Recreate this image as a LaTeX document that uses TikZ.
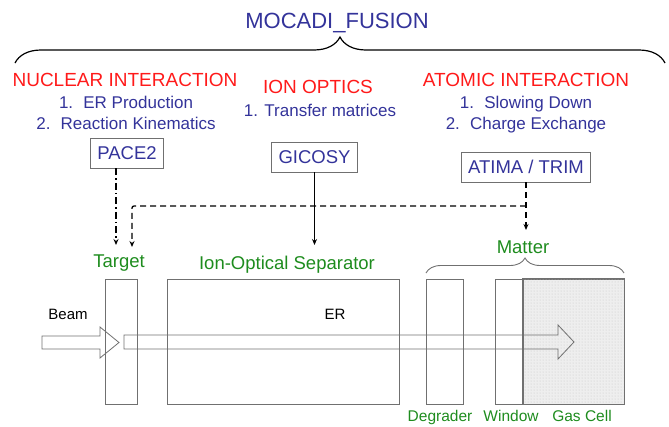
\documentclass[tikz,border=0pt]{standalone}
\usepackage{fontspec}
\setmainfont{Liberation Sans}
\usetikzlibrary{arrows.meta, positioning, calc, decorations.pathreplacing, patterns}
\definecolor{mocblue}{HTML}{33339A}
\definecolor{mocred}{HTML}{FF1A1A}
\definecolor{mocgreen}{HTML}{1E8C1E}
\definecolor{boxgray}{HTML}{707070}
\definecolor{gasfill}{HTML}{EEEEEE}

\begin{document}
\begin{tikzpicture}[x=1pt, y=-1pt,
    lbl/.style={inner sep=0pt, text depth=0pt},
    head/.style={lbl, text height=13.7pt, font=\fontsize{19}{23}\selectfont, text=mocred},
    item/.style={lbl, text height=12.2pt, font=\fontsize{17}{21}\selectfont, text=mocblue},
    code/.style={lbl, text height=13.3pt, draw=boxgray, line width=0.9pt, font=\fontsize{18.5}{22}\selectfont, text=mocblue, minimum height=30pt, inner xsep=7pt},
    part/.style={lbl, text height=13.3pt, font=\fontsize{18.5}{22}\selectfont, text=mocgreen},
    small/.style={lbl, text height=11.2pt, font=\fontsize{15.5}{19}\selectfont, text=mocgreen},
    note/.style={lbl, text height=10.8pt, font=\fontsize{15}{18}\selectfont},
    slab/.style={draw=boxgray, line width=0.8pt, inner sep=0pt, minimum height=125pt},
    link/.style={line width=1.3pt, -{Stealth[length=6pt, width=5pt]}}]
  \useasboundingbox (0,0) rectangle (669,426);

  % Titel und Klammer
  \node[lbl, text height=15.8pt, font=\fontsize{22}{26}\selectfont, text=mocblue] (title) at (337,21) {MOCADI\_FUSION};
  \draw[decorate, decoration={brace, amplitude=26pt}, line width=1.2pt] (15,63) -- (665,63);

  % Kernreaktion
  \node[head] (nuclear) at (125,80) {NUCLEAR INTERACTION};
  \node[item] (nucA) at (126,102) {1.\hspace{0.6em}ER Production};
  \node[item] (nucB) at (126,123) {2.\hspace{0.6em}Reaction Kinematics};
  \node[code] (pace) at (127,153) {PACE2};

  % Ionenoptik
  \node[head] (optics) at (318,87) {ION OPTICS};
  \node[item] (optA) at (320,110) {1. Transfer matrices};
  \node[code] (gicosy) at (314.5,157) {GICOSY};

  % Atomare Wechselwirkung
  \node[head] (atomic) at (526,80) {ATOMIC INTERACTION};
  \node[item] (atoA) at (526,102) {1.\hspace{0.6em}Slowing Down};
  \node[item] (atoB) at (526,123) {2.\hspace{0.6em}Charge Exchange};
  \node[code] (atima) at (526,167) {ATIMA / TRIM};

  % Aufbau
  \node[slab, minimum width=32pt] (target) at (121,341.5) {};
  \node[slab, minimum width=232pt] (separator) at (283,341.5) {};
  \node[slab, minimum width=37pt] (degrader) at (444.5,341.5) {};
  \node[slab, minimum width=27pt] (window) at (508.5,341.5) {};
  \node[slab, minimum width=101pt, fill=gasfill] (gascell) at (573.5,341.5) {};
  \fill[pattern=dots, pattern color=black!22] (gascell.south west) rectangle (gascell.north east);
  \draw[boxgray, line width=0.8pt] (gascell.south west) rectangle (gascell.north east);

  \node[part] (tgtlabel) at (119,261) {Target};
  \node[part] (seplabel) at (287,263) {Ion-Optical Separator};
  \node[part] (matlabel) at (523,247) {Matter};
  \draw[decorate, decoration={brace, amplitude=15pt}, boxgray, line width=0.9pt] (426,273) -- (624,273);
  \node[small] (deglabel) at (440,416) {Degrader};
  \node[small] (winlabel) at (511,416) {Window};
  \node[small] (gaslabel) at (582,416) {Gas Cell};

  % Strahl und ER
  \node[note] (beam) at (68,314) {Beam};
  \node[note] (er) at (335,314) {ER};
  \draw[boxgray, line width=0.8pt] (42,336) -- (100,336) -- (100,327) -- (119,342.5) -- (100,358) -- (100,349) -- (42,349) -- cycle;
  \draw[boxgray, line width=0.8pt] (124,335) -- (558,335) -- (558,325) -- (574,342) -- (558,359) -- (558,349) -- (124,349) -- cycle;

  % Verbindungen
  \coordinate (tgtA) at (116,245);
  \coordinate (tgtB) at (132,247);
  \coordinate (sepIn) at (314.5,245);
  \coordinate (matIn) at (526,230);
  \coordinate (jct) at (526,206);
  \draw[link, dash pattern=on 7pt off 3pt on 1.5pt off 3pt] (pace.south -| tgtA) -- (tgtA);
  \draw[link] (gicosy.south) -- (sepIn);
  \draw[link, dash pattern=on 6pt off 4pt] (atima.south) -- (matIn);
  \draw[link, dash pattern=on 6pt off 4pt, rounded corners=2pt] (jct) -- (jct -| tgtB) -- (tgtB);
\end{tikzpicture}
\end{document}
